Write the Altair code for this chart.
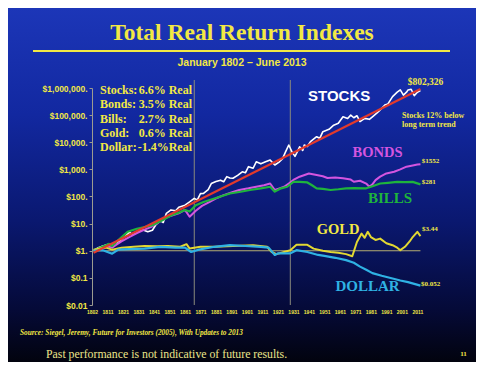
import altair as alt
import pandas as pd

# ---------------- data ----------------
stock_years = [1802, 1805, 1808, 1811, 1814, 1817, 1820, 1823, 1825, 1827, 1829, 1832, 1834, 1837, 1840,
               1842, 1845, 1847, 1849, 1852, 1855, 1857, 1861, 1864, 1867, 1869, 1871, 1873, 1876, 1878,
               1881, 1884, 1886, 1888, 1890, 1892, 1895, 1898, 1900, 1902, 1905, 1907, 1910, 1913, 1916,
               1919, 1922, 1924, 1926, 1928, 1929, 1930, 1932, 1933, 1935, 1937, 1938, 1940, 1942, 1946,
               1948, 1950, 1954, 1957, 1960, 1963, 1966, 1968, 1970, 1972, 1974, 1977, 1980, 1982, 1985,
               1987, 1990, 1992, 1995, 1998, 2000, 2002, 2004, 2005, 2007, 2009, 2011, 2013]
stock_vals = [1.0, 1.3, 1.5, 1.7, 1.6, 2.0, 2.6, 3.6, 4.8, 4.0, 4.3, 5.5, 5.8, 5.0, 5.7,
              8.7, 13, 11, 24, 32, 30, 40, 48, 63, 85, 75, 128, 130, 180, 300,
              360, 400, 350, 540, 480, 470, 600, 810, 750, 1260, 1100, 1900, 1600, 1900, 2200,
              1450, 1900, 2500, 4500, 7900, 6000, 4500, 3000, 3900, 6800, 5000, 7900, 7000, 10500, 16000,
              14000, 24500, 30000, 42600, 50000, 87000, 75000, 100000, 80000, 95000, 57500, 76000, 70000, 87000, 120000,
              155000, 234000, 260000, 480000, 700000, 850000, 550000, 700000, 850000, 900000, 520000, 700000, 802326]

bond_years = [1802, 1806, 1810, 1814, 1817, 1820, 1825, 1830, 1835, 1840, 1845, 1850, 1857, 1861, 1864,
              1868, 1872, 1877, 1882, 1886, 1891, 1896, 1902, 1907, 1912, 1916, 1919, 1922, 1925, 1928,
              1931, 1935, 1941, 1946, 1950, 1953, 1958, 1963, 1968, 1970, 1974, 1978, 1980, 1982, 1984,
              1987, 1991, 1996, 2000, 2004, 2008, 2011, 2013]
bond_vals = [1.0, 1.2, 1.5, 1.3, 1.7, 2.2, 3.2, 4.5, 6, 8, 12, 18, 24, 32, 18,
             30, 45, 63, 90, 112, 140, 174, 200, 229, 260, 302, 174, 200, 229, 300,
             407, 537, 708, 620, 560, 480, 500, 470, 420, 350, 380, 300, 230, 280, 400,
             540, 710, 820, 1000, 1260, 1400, 1500, 1552]

bill_years = [1802, 1806, 1810, 1812, 1814, 1818, 1824, 1830, 1835, 1840, 1846, 1852, 1857, 1861, 1864,
              1868, 1873, 1877, 1884, 1890, 1897, 1903, 1910, 1916, 1919, 1923, 1927, 1931, 1935, 1940,
              1943, 1946, 1950, 1955, 1960, 1965, 1970, 1978, 1982, 1987, 1992, 1998, 2003, 2008, 2013]
bill_vals = [1.0, 1.3, 1.6, 1.8, 1.5, 2.5, 5, 6.5, 7.5, 8.7, 13, 20, 25, 32, 28,
             48, 63, 74, 100, 129, 150, 174, 200, 229, 151, 200, 229, 347, 347, 330,
             260, 200, 190, 174, 185, 200, 205, 200, 240, 302, 320, 347, 340, 347, 281]

gold_years = [1802, 1806, 1810, 1814, 1820, 1828, 1835, 1843, 1850, 1858, 1862, 1864, 1871, 1880, 1892,
              1905, 1914, 1917, 1920, 1925, 1929, 1933, 1940, 1944, 1950, 1955, 1960, 1965, 1969, 1972,
              1975, 1977, 1979, 1981, 1984, 1987, 1991, 1995, 1998, 2000, 2003, 2006, 2008, 2011, 2013]
gold_vals = [1.1, 1.2, 1.3, 1.1, 1.3, 1.4, 1.5, 1.45, 1.5, 1.4, 1.75, 1.2, 1.4, 1.4, 1.5,
             1.6, 1.4, 0.9, 0.75, 0.9, 1.05, 1.65, 1.65, 1.2, 1.0, 0.9, 0.85, 0.75, 0.63, 2.1,
             4.3, 3.0, 5.0, 3.2, 2.5, 2.8, 1.9, 1.6, 1.3, 1.05, 1.4, 2.2, 3.2, 5.0, 3.44]

dollar_years = [1802, 1808, 1814, 1818, 1825, 1835, 1845, 1855, 1861, 1865, 1870, 1880, 1890, 1900, 1910,
                1915, 1919, 1921, 1925, 1929, 1933, 1940, 1947, 1951, 1958, 1965, 1970, 1974, 1978, 1982,
                1988, 1995, 2000, 2005, 2013]
dollar_vals = [1.0, 1.05, 0.78, 1.1, 1.15, 1.2, 1.4, 1.3, 1.3, 0.9, 1.1, 1.4, 1.6, 1.5, 1.4,
               1.3, 0.7, 0.8, 0.8, 0.8, 1.05, 0.9, 0.7, 0.65, 0.55, 0.45, 0.36, 0.26, 0.2, 0.15,
               0.12, 0.095, 0.08, 0.07, 0.052]

trend_years = [1802, 2013]
trend_vals = [0.85, 911734]

tick_years = [1801, 1811, 1821, 1831, 1841, 1851, 1861, 1871, 1881, 1891, 1901, 1911,
              1921, 1931, 1941, 1951, 1961, 1971, 1981, 1991, 2001, 2011]
y_ticks = [0.01, 0.1, 1, 10, 100, 1000, 10000, 100000, 1000000]
event_years = [1867, 1929]

stat_names = ["Stocks:", "Bonds:", "Bills:", "Gold:", "Dollar:"]
stat_values = ["6.6% Real", "3.5% Real", "2.7% Real", "0.6% Real", "-1.4%Real"]

# ---------------- styling ----------------
YEL = "#f2e844"
SERIF = "Liberation Serif"
SANS = "Liberation Sans"

xs = alt.Scale(domain=[1801, 2014], nice=False, zero=False)
ys = alt.Scale(type="log", domain=[0.01, 1000000], nice=False)

X = alt.X("year:Q", scale=xs, axis=alt.Axis(
    values=tick_years, labelExpr="datum.value == 1801 ? '1802' : '' + datum.value",
    labelColor=YEL, labelFont=SANS, labelFontWeight="bold", labelFontSize=5,
    domain=False, ticks=False, grid=False, labelPadding=4, title=None,
    labelOverlap=False, labelFlush=False, zindex=1))
Y = alt.Y("val:Q", scale=ys, axis=alt.Axis(
    values=y_ticks,
    labelExpr="datum.value >= 1 ? '$' + format(datum.value, ',') + '.' : '$' + format(datum.value, '')",
    labelColor=YEL, labelFont=SANS, labelFontWeight="bold", labelFontSize=8.5,
    domainColor="#9c9c90", tickColor="#9c9c90", tickSize=3, labelPadding=2,
    grid=False, title=None, labelOverlap=False, labelFlush=False, zindex=1))


def series(years, vals):
    return pd.DataFrame({"year": years, "val": vals})


dummy = pd.DataFrame({"k": [0]})

bg = alt.Chart(dummy).mark_rect(
    fill=alt.Gradient(
        gradient="linear", x1=0, x2=0, y1=0, y2=1,
        stops=[alt.GradientStop(color="#1c36b8", offset=0),
               alt.GradientStop(color="#1228a0", offset=0.3),
               alt.GradientStop(color="#0a1870", offset=0.6),
               alt.GradientStop(color="#050a38", offset=0.85),
               alt.GradientStop(color="#02030e", offset=1)]),
    strokeWidth=0,
).encode(x=alt.value(-84), x2=alt.value(384), y=alt.value(-80), y2=alt.value(274))

events = alt.Chart(pd.DataFrame({"year": event_years})).mark_rule(
    color="#8a8a7c", strokeWidth=1).encode(x=X, y=alt.value(-8), y2=alt.value(217))

one_line = alt.Chart(pd.DataFrame({"year": [1802], "year2": [2013], "val": [1]})).mark_rule(
    color="#b4ac70", strokeWidth=1).encode(x=X, x2="year2:Q", y=Y)


def line(years, vals, color, width):
    return alt.Chart(series(years, vals)).mark_line(
        color=color, strokeWidth=width, strokeJoin="round").encode(x=X, y=Y)


stocks = line(stock_years, stock_vals, "#ffffff", 1.6)
bonds = line(bond_years, bond_vals, "#d455e0", 2)
bills = line(bill_years, bill_vals, "#1fb43c", 2.2)
gold = line(gold_years, gold_vals, "#e2d832", 2)
dollar = line(dollar_years, dollar_vals, "#2fb2e4", 2.2)
trend = line(trend_years, trend_vals, "#e23a2c", 2.2)


def dlabel(text, year, val, color, size, font=SERIF, align="center", style="normal"):
    return alt.Chart(pd.DataFrame({"year": [year], "val": [val], "t": [text]})).mark_text(
        color=color, fontSize=size, font=font, fontWeight="bold", align=align,
        baseline="middle", fontStyle=style).encode(x=X, y=Y, text="t:N")


labels = [
    dlabel("STOCKS", 1960.5, 500000, "#ffffff", 15, SANS),
    dlabel("BONDS", 1985.3, 4000, "#d455e0", 14.5),
    dlabel("BILLS", 1993.4, 87, "#1fb43c", 15),
    dlabel("GOLD", 1959.8, 5.8, YEL, 14.5),
    dlabel("DOLLAR", 1978.9, 0.05, "#2fb2e4", 15),
    dlabel("$802,326", 2004.8, 1700000, YEL, 9.5, align="left"),
    dlabel("$1552", 2013.9, 2040, YEL, 7, align="left"),
    dlabel("$281", 2013.9, 331, YEL, 7, align="left"),
    dlabel("$3.44", 2014, 6.2, YEL, 7, align="left"),
    dlabel("$0.052", 2013.4, 0.058, YEL, 7, align="left"),
    dlabel("Stocks 12% below", 2001.1, 93000, YEL, 8, align="left"),
    dlabel("long term trend", 2001.1, 43000, YEL, 8, align="left"),
]

stat_df = pd.DataFrame({"name": stat_names, "v": stat_values,
                        "val": [850000, 250000, 74000, 22000, 6600]})
stat_names_layer = alt.Chart(stat_df).mark_text(
    color=YEL, font=SERIF, fontWeight="bold", fontSize=12, align="left", baseline="middle").encode(
    x=alt.value(8), y=Y, text="name:N")
stat_vals_layer = alt.Chart(stat_df).mark_text(
    color=YEL, font=SERIF, fontWeight="bold", fontSize=12, align="right", baseline="middle").encode(
    x=alt.value(100), y=Y, text="v:N")


def ptext(text, x, y, size, font=SERIF, color=YEL, align="center", weight="bold", style="normal"):
    return alt.Chart(dummy).mark_text(
        color=color, fontSize=size, font=font, fontWeight=weight, fontStyle=style,
        align=align, baseline="middle").encode(
        x=alt.value(x), y=alt.value(y), text=alt.value(text))


title = ptext("Total Real Return Indexes", 150, -55, 23.5)
underline = alt.Chart(dummy).mark_rule(color=YEL, strokeWidth=2.2).encode(
    x=alt.value(-59), x2=alt.value(358), y=alt.value(-37))
subtitle = ptext("January 1802 \u2013 June 2013", 150, -25, 10.5, SANS)
source = ptext("Source: Siegel, Jeremy, Future for Investors (2005), With Updates to 2013",
               -72, 245, 7.3, align="left", style="italic")
past = ptext("Past performance is not indicative of future results.", -46, 266, 11.8,
             color="#ece48a", align="left", weight="normal")
page = ptext("11", 371.5, 266, 7)

chart = alt.layer(
    bg, events, one_line, stocks, bonds, bills, gold, dollar, trend,
    stat_names_layer, stat_vals_layer, *labels, title, underline, subtitle, source, past, page
).properties(
    width=330, height=217,
    autosize=alt.AutoSizeParams(type="none"),
    padding={"left": 84, "top": 80, "right": 54, "bottom": 57},
    background="#02030e",
).configure_view(strokeWidth=0)

chart.save("out.html", embed_options={"renderer": "svg", "actions": False})
